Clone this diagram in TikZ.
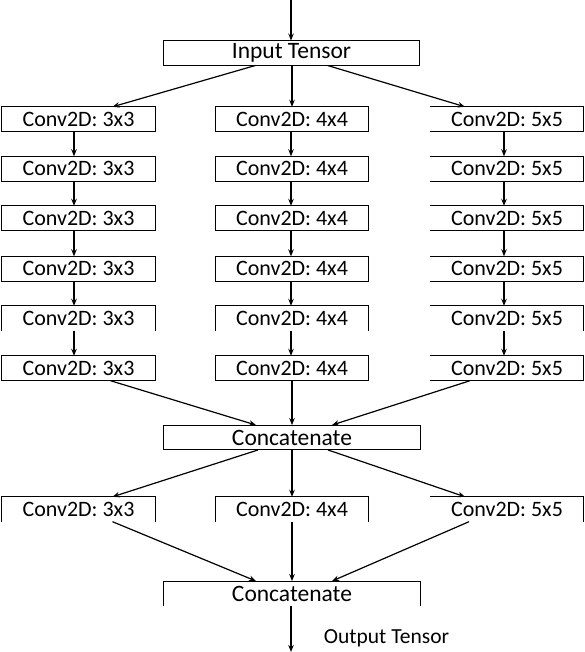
\documentclass[tikz,border=0pt]{standalone}
\usepackage{fontspec}
\setmainfont{Carlito}
\usetikzlibrary{arrows.meta}
\begin{document}
\begin{tikzpicture}[x=1pt,y=-1pt,
  blk/.style={rectangle,inner sep=0pt,minimum width=153pt,minimum height=24.5pt,font=\fontsize{22}{24}\selectfont},
  wide/.style={blk,minimum width=256pt,font=\fontsize{23.5}{26}\selectfont},
  arr/.style={-{Stealth[length=7pt,width=5.5pt]},line width=1.2pt},
  bd/.style={line width=1pt}]
\useasboundingbox (0,0) rectangle (584,652);
% input
\node[wide] (in) at (291.5,53) {Input Tensor};
\draw[bd] (in.south west) rectangle (in.north east);
% columns
\foreach \r/\y in {1/119.25,2/168.75,3/218.25,4/268.75,5/318.25,6/368.25,7/509.25}{
  \node[blk] (L\r) at (78.5,\y) {Conv2D: 3x3};
  \node[blk] (M\r) at (292,\y) {Conv2D: 4x4};
  \node[blk] (R\r) at (507,\y) {Conv2D: 5x5};
}
\foreach \r in {1,2,3,4,6}{
  \draw[bd] (L\r.south west) rectangle (L\r.north east);
  \draw[bd] (M\r.south west) rectangle (M\r.north east);
  \draw[bd] (R\r.north west) -- (R\r.north east) -- (R\r.south east) -- (R\r.south west);
}
\foreach \r in {5,7}{
  \draw[bd] (L\r.south west) -- (L\r.north west) -- (L\r.north east) -- (L\r.south east);
  \draw[bd] (M\r.south west) -- (M\r.north west) -- (M\r.north east) -- (M\r.south east);
  \draw[bd] (R\r.north west) -- (R\r.north east) -- (R\r.south east);
}
\node[wide] (c1) at (292,437.5) {Concatenate};
\draw[bd] (c1.south west) rectangle (c1.north east);
\node[wide] (c2) at (292,593.5) {Concatenate};
\draw[bd] (c2.south west) -- (c2.north west) -- (c2.north east) -- (c2.south east);
\node[font=\fontsize{21.5}{24}\selectfont] (out) at (386.5,638.5) {Output Tensor};
\coordinate (top) at (291,0);
\coordinate (bot) at (291,652);
% arrows
\draw[arr] (top) -- (in.north -| top);
\draw[arr] ([xshift=-36pt]in.south) -- ([xshift=34pt]L1.north);
\draw[arr] (in.south -| M1) -- (M1.north);
\draw[arr] ([xshift=36pt]in.south) -- ([xshift=-42pt]R1.north);
\foreach \a/\b in {1/2,2/3,3/4,4/5,5/6}{
  \draw[arr] ([xshift=-4.5pt]L\a.south) -- ([xshift=-4.5pt]L\b.north);
  \draw[arr] ([xshift=-1pt]M\a.south) -- ([xshift=-1pt]M\b.north);
  \draw[arr] ([xshift=-3pt]R\a.south) -- ([xshift=-3pt]R\b.north);
}
\draw[arr] ([xshift=32pt]L6.south) -- ([xshift=-36pt]c1.north);
\draw[arr] (M6.south) -- (c1.north);
\draw[arr] ([xshift=-37pt]R6.south) -- ([xshift=40pt]c1.north);
\draw[arr] ([xshift=-34pt]c1.south) -- ([xshift=34pt]L7.north);
\draw[arr] (c1.south) -- (M7.north);
\draw[arr] ([xshift=36pt]c1.south) -- ([xshift=-42pt]R7.north);
\draw[arr] ([xshift=34pt]L7.south) -- ([xshift=-36pt]c2.north);
\draw[arr] (M7.south) -- (c2.north);
\draw[arr] ([xshift=-38pt]R7.south) -- ([xshift=40pt]c2.north);
\draw[arr] (c2.south -| bot) -- (bot);
\end{tikzpicture}
\end{document}
